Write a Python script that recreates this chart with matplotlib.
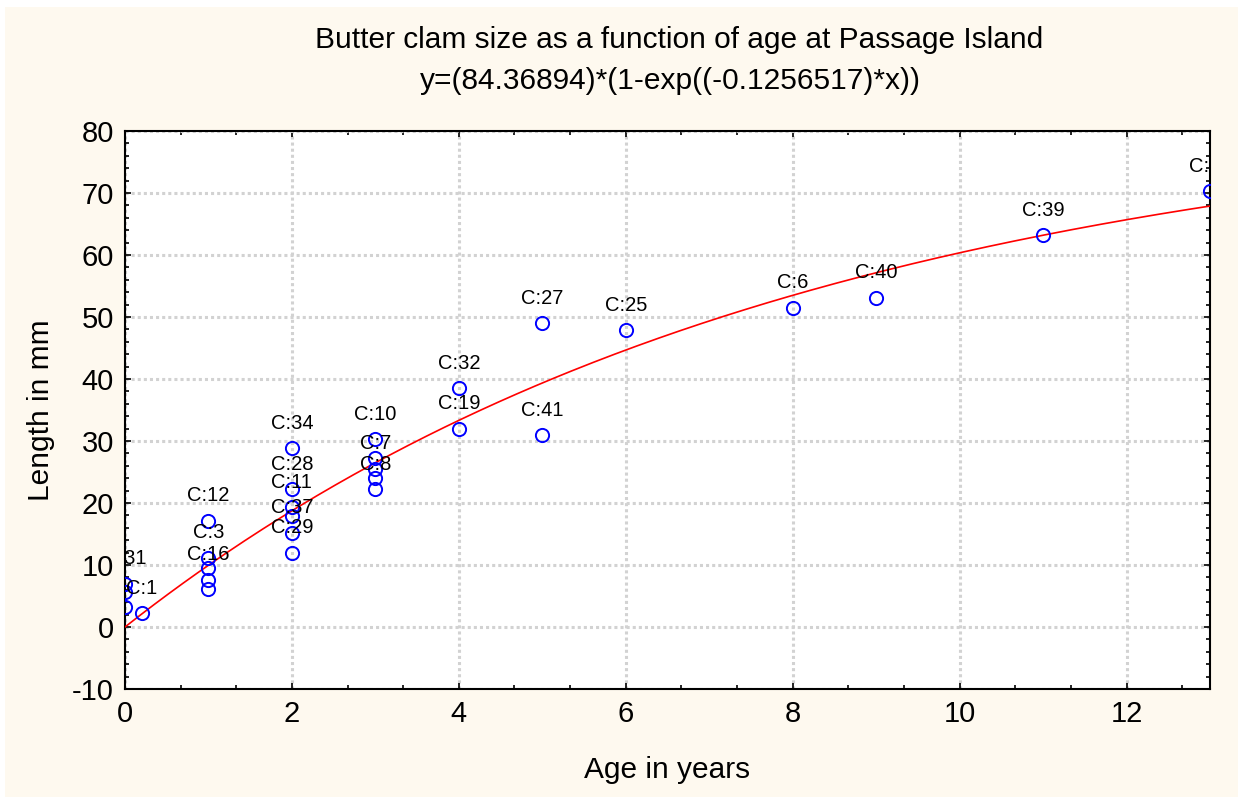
import numpy as np
import matplotlib
matplotlib.use("Agg")
import matplotlib.pyplot as plt
from matplotlib.ticker import MultipleLocator
from matplotlib.patches import Rectangle

plt.rcParams['font.family'] = ['Liberation Sans', 'DejaVu Sans']
plt.rcParams['axes.unicode_minus'] = False

# Observed data (age in years, length in mm) with case labels
ages = [0, 0, 0, 0.2,
        1, 1, 1, 1, 1,
        2, 2, 2, 2, 2, 2,
        3, 3, 3, 3, 3,
        4, 4, 5, 5, 6, 8, 9, 11, 13]
lengths = [7.0, 5.6, 3.3, 2.2,
           17.1, 11.2, 9.5, 7.6, 6.1,
           28.8, 22.2, 19.3, 17.9, 15.2, 12.0,
           30.3, 27.2, 25.5, 24.0, 22.2,
           38.5, 32.0, 49.0, 30.9, 47.9, 51.5, 53.1, 63.2, 70.3]
case_labels = ["C:31", "", "", "C:1",
               "C:12", "C:3", "", "C:16", "",
               "C:34", "C:28", "C:11", "", "C:37", "C:29",
               "C:10", "", "C:7", "", "C:8",
               "C:32", "C:19", "C:27", "C:41", "C:25", "C:6", "C:40", "C:39", "C:38"]

# Fitted model parameters
a_param = 84.36894
b_param = -0.1256517

fig = plt.figure(figsize=(12.43, 7.97), dpi=100)
fig.patch.set_facecolor("white")
fig.patches.append(Rectangle((5 / 1243, 0), 1 - 10 / 1243, 1 - 7 / 797,
                             transform=fig.transFigure, facecolor="#FEF9EF",
                             edgecolor="none", zorder=-10))

ax = fig.add_axes([125 / 1243, 1 - 689 / 797, 1085 / 1243, 558 / 797])
ax.set_facecolor("white")

xfit = np.linspace(0, 13, 300)
ax.plot(xfit, a_param * (1 - np.exp(b_param * xfit)), color="red", lw=1.2, zorder=3)

ax.plot(ages, lengths, linestyle="none", marker="o", markersize=9.5,
        markerfacecolor="none", markeredgecolor="blue", markeredgewidth=1.4, zorder=4)

for xv, yv, lab in zip(ages, lengths, case_labels):
    if lab:
        ax.annotate(lab, (xv, yv), xytext=(0, 18), textcoords="offset points",
                    ha="center", va="center", fontsize=14.5, clip_on=True, zorder=5)

ax.set_xlim(0, 13)
ax.set_ylim(-10, 80)
ax.xaxis.set_major_locator(MultipleLocator(2))
ax.xaxis.set_minor_locator(MultipleLocator(2 / 3))
ax.yaxis.set_major_locator(MultipleLocator(10))
ax.yaxis.set_minor_locator(MultipleLocator(2))
ax.tick_params(which="both", direction="in", top=True, right=True, width=1.2)
ax.tick_params(which="major", length=4, labelsize=21, pad=8)
ax.tick_params(which="minor", length=3)
ax.grid(True, which="major", color="#d2d2d2", linestyle=(0, (1, 1)), linewidth=2.2, zorder=0)
ax.set_axisbelow(True)
for sp in ax.spines.values():
    sp.set_linewidth(1.5)

ax.set_xlabel("Age in years", fontsize=21.5, labelpad=20)
ax.set_ylabel("Length in mm", fontsize=21.5, labelpad=12)

fig.text(0.546, 1 - 40 / 797, "Butter clam size as a function of age at Passage Island",
         ha="center", va="center", fontsize=21.5)
fig.text(0.539, 1 - 81 / 797, "y=(84.36894)*(1-exp((-0.1256517)*x))",
         ha="center", va="center", fontsize=21.5)

fig.savefig("out.png", dpi=100, facecolor=fig.get_facecolor())
